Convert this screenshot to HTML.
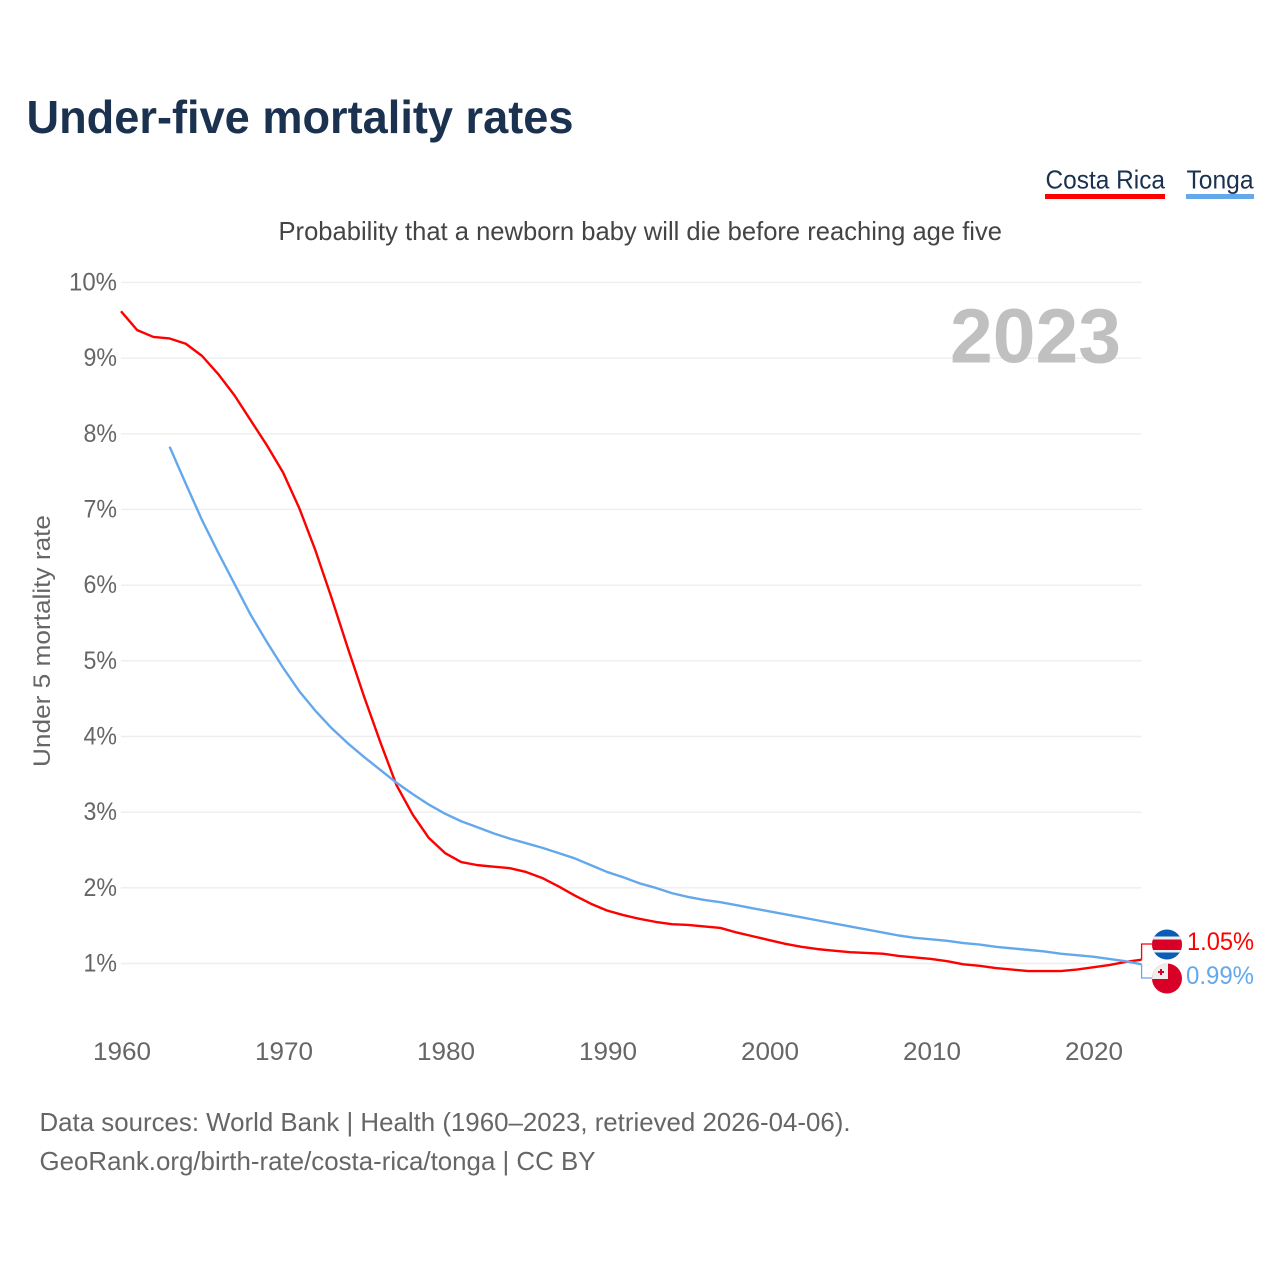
<!DOCTYPE html>
<html lang="en">
<head>
<meta charset="utf-8">
<title>Under-five mortality rates</title>
<style>
html,body{margin:0;padding:0;background:#fff;}
svg{display:block;font-family:"Liberation Sans",sans-serif;}
</style>
</head>
<body>
<svg id="chart" xmlns="http://www.w3.org/2000/svg" width="1280" height="1280" viewBox="0 0 1280 1280">
  <defs>
    <clipPath id="cr-clip"><circle cx="1167" cy="944.5" r="15"/></clipPath>
    <clipPath id="to-clip"><circle cx="1167" cy="978.5" r="15"/></clipPath>
  </defs>
  <rect width="1280" height="1280" fill="#fff"/>
  <text x="26.5" y="133" font-size="46" font-weight="700" fill="#1a3150" textLength="547" lengthAdjust="spacingAndGlyphs">Under-five mortality rates</text>

  <text x="1045.5" y="188.5" font-size="26" fill="#1a3150" textLength="119.5" lengthAdjust="spacingAndGlyphs">Costa Rica</text>
  <rect x="1045" y="194" width="120" height="5" fill="#ff0000"/>
  <text x="1186.5" y="188.5" font-size="26" fill="#1a3150" textLength="67" lengthAdjust="spacingAndGlyphs">Tonga</text>
  <rect x="1186" y="194" width="68" height="5" fill="#64a8ec"/>

  <text x="278.5" y="240" font-size="26" fill="#444" textLength="723.5" lengthAdjust="spacingAndGlyphs">Probability that a newborn baby will die before reaching age five</text>

  <g id="grid"></g>
  <g id="yticks"></g>
  <g id="xticks"></g>

  <text transform="translate(50,767) rotate(-90)" font-size="24.5" fill="#666" textLength="252" lengthAdjust="spacingAndGlyphs">Under 5 mortality rate</text>
  <text x="950" y="362.5" font-size="77" font-weight="700" fill="#c0c0c0" textLength="171" lengthAdjust="spacingAndGlyphs">2023</text>

  <path id="line-costa-rica" fill="none" stroke="#ff0000" stroke-width="2.4" stroke-linejoin="round"/>
  <path id="line-tonga" fill="none" stroke="#64a8ec" stroke-width="2.4" stroke-linejoin="round"/>
  <path id="connector-costa-rica" fill="none" stroke="#ff0000" stroke-width="1.3"/>
  <path id="connector-tonga" fill="none" stroke="#64a8ec" stroke-width="1.3"/>

  <g clip-path="url(#cr-clip)">
    <rect x="1152" y="929" width="30" height="31" fill="#0a5cb4"/>
    <rect x="1152" y="936.5" width="30" height="16" fill="#eeeeee"/>
    <rect x="1152" y="939.5" width="30" height="10.5" fill="#d80027"/>
  </g>
  <g clip-path="url(#to-clip)">
    <rect x="1152" y="963" width="30" height="31" fill="#d80027"/>
    <rect x="1152" y="963" width="16" height="16" fill="#eeeeee"/>
    <rect x="1158" y="971" width="6" height="2" fill="#d80027"/>
    <rect x="1160" y="969" width="2" height="6" fill="#d80027"/>
  </g>

  <text id="value-costa-rica" x="1187" y="950" font-size="25" fill="#ff0000" textLength="67" lengthAdjust="spacingAndGlyphs"></text>
  <text id="value-tonga" x="1186" y="984" font-size="25" fill="#64a8ec" textLength="68" lengthAdjust="spacingAndGlyphs"></text>

  <text x="39.5" y="1131" font-size="26" fill="#666" textLength="811" lengthAdjust="spacingAndGlyphs">Data sources: World Bank | Health (1960–2023, retrieved 2026-04-06).</text>
  <text x="39.5" y="1170" font-size="26" fill="#666" textLength="556" lengthAdjust="spacingAndGlyphs">GeoRank.org/birth-rate/costa-rica/tonga | CC BY</text>
</svg>
<script>
const costaRicaStartYear = 1960;
const costaRicaValues = [9.62,9.37,9.28,9.26,9.19,9.03,8.79,8.51,8.18,7.85,7.49,7.02,6.46,5.83,5.17,4.53,3.93,3.36,2.97,2.66,2.46,2.34,2.30,2.28,2.26,2.21,2.13,2.02,1.90,1.79,1.70,1.64,1.59,1.55,1.52,1.51,1.49,1.47,1.41,1.36,1.31,1.26,1.22,1.19,1.17,1.15,1.14,1.13,1.10,1.08,1.06,1.03,0.99,0.97,0.94,0.92,0.90,0.90,0.90,0.92,0.95,0.98,1.02,1.05];
const tongaStartYear = 1963;
const tongaValues = [7.83,7.34,6.86,6.43,6.02,5.61,5.25,4.91,4.60,4.34,4.11,3.91,3.73,3.56,3.39,3.24,3.10,2.98,2.88,2.80,2.72,2.65,2.59,2.53,2.46,2.39,2.30,2.21,2.14,2.06,2.00,1.93,1.88,1.84,1.81,1.77,1.73,1.69,1.65,1.61,1.57,1.53,1.49,1.45,1.41,1.37,1.34,1.32,1.30,1.27,1.25,1.22,1.20,1.18,1.16,1.13,1.11,1.09,1.06,1.03,0.99];
const yTickValues = [1,2,3,4,5,6,7,8,9,10];
const xTickYears = [1960,1970,1980,1990,2000,2010,2020];

const NS = 'http://www.w3.org/2000/svg';
function xScale(year) { return 121 + (year - 1960) * 16.2; }
function yScale(v) { return 963.5 - (v - 1) * 75.67; }
function linePath(startYear, values) {
  return values.map(function (v, i) {
    return (i ? 'L' : 'M') + xScale(startYear + i).toFixed(2) + ' ' + yScale(v).toFixed(2);
  }).join(' ');
}

const gridGroup = document.getElementById('grid');
const yGroup = document.getElementById('yticks');
yTickValues.forEach(function (v) {
  const y = yScale(v);
  const line = document.createElementNS(NS, 'line');
  
  
  line.setAttribute('x1', 121);
  line.setAttribute('x2', xScale(2023));
  line.setAttribute('y1', y);
  line.setAttribute('y2', y);
  line.setAttribute('stroke', '#eeeeee');
  line.setAttribute('stroke-width', '1.4');
  gridGroup.appendChild(line);

  const label = document.createElementNS(NS, 'text');
  
  
  const str = v + '%';
  const w = (str.length - 1) * 14.5 + 19;
  label.setAttribute('x', 117 - w);
  label.setAttribute('y', y + 8);
  label.setAttribute('font-size', '25');
  label.setAttribute('fill', '#666');
  label.setAttribute('textLength', w);
  label.setAttribute('lengthAdjust', 'spacingAndGlyphs');
  label.textContent = str;
  yGroup.appendChild(label);
});

const xGroup = document.getElementById('xticks');
xTickYears.forEach(function (yr) {
  const label = document.createElementNS(NS, 'text');
  
  
  label.setAttribute('x', xScale(yr) - 28);
  label.setAttribute('y', 1060);
  label.setAttribute('font-size', '25');
  label.setAttribute('fill', '#666');
  label.setAttribute('textLength', '58');
  label.setAttribute('lengthAdjust', 'spacingAndGlyphs');
  label.textContent = String(yr);
  xGroup.appendChild(label);
});

document.getElementById('line-costa-rica').setAttribute('d', linePath(costaRicaStartYear, costaRicaValues));
document.getElementById('line-tonga').setAttribute('d', linePath(tongaStartYear, tongaValues));

const crLast = costaRicaValues[costaRicaValues.length - 1];
const toLast = tongaValues[tongaValues.length - 1];
const endX = xScale(2023);
document.getElementById('connector-costa-rica').setAttribute('d', 'M' + endX + ' ' + yScale(crLast) + ' V944 H1152');
document.getElementById('connector-tonga').setAttribute('d', 'M' + endX + ' ' + yScale(toLast) + ' V978 H1152');
document.getElementById('value-costa-rica').textContent = crLast.toFixed(2) + '%';
document.getElementById('value-tonga').textContent = toLast.toFixed(2) + '%';
</script>
</body>
</html>
